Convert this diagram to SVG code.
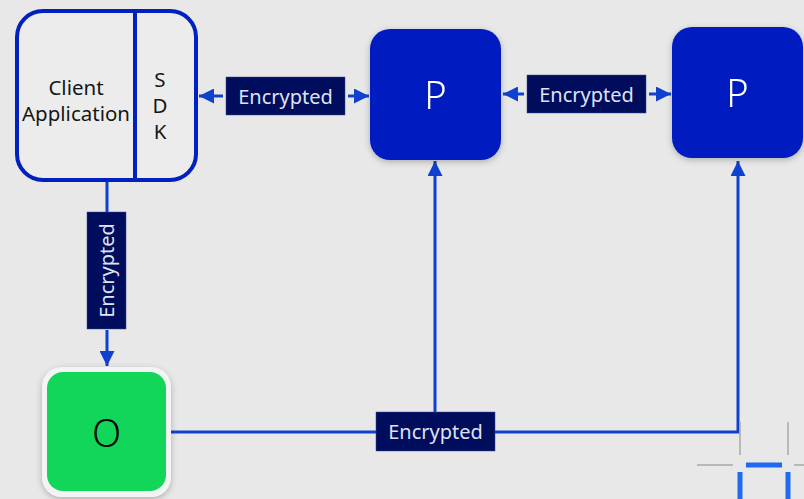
<svg xmlns="http://www.w3.org/2000/svg" width="804" height="499" viewBox="0 0 804 499">
  <defs>
    <marker id="arrow" viewBox="0 0 10 10" refX="10" refY="5" markerWidth="5" markerHeight="5" orient="auto-start-reverse" markerUnits="strokeWidth">
      <path d="M0,0 L10,5 L0,10 z" fill="#1040d0"/>
    </marker>
    <filter id="shadow" x="-20%" y="-20%" width="140%" height="140%">
      <feDropShadow dx="0" dy="2" stdDeviation="3" flood-color="#000" flood-opacity="0.25"/>
    </filter>
  </defs>
  <style>
    .edge { fill: none; stroke: #1040d0; stroke-width: 3; }
    .tag { fill: #000c5c; stroke: #3a4a8a; stroke-width: 0.5; }
    .tagtext { font-family: "Noto Sans", "Open Sans", sans-serif; font-size: 20px; fill: #dfe2f0; text-anchor: middle; dominant-baseline: central; }
    .ptext { font-family: "Noto Sans", "Open Sans", sans-serif; font-size: 38px; font-weight: 300; fill: #ffffff; text-anchor: middle; dominant-baseline: central; }
    .label { font-family: "Noto Sans", "Open Sans", sans-serif; font-size: 20.5px; fill: #161616; text-anchor: middle; dominant-baseline: central; }
  </style>
  <rect width="804" height="499" fill="#e8e8e8"/>

  <!-- connectors -->
  <g id="connectors">
    <line class="edge" x1="223" y1="96" x2="199" y2="96" marker-end="url(#arrow)"/>
    <line class="edge" x1="348" y1="96" x2="369" y2="96" marker-end="url(#arrow)"/>
    <line class="edge" x1="524" y1="94" x2="503" y2="94" marker-end="url(#arrow)"/>
    <line class="edge" x1="649" y1="94" x2="671" y2="94" marker-end="url(#arrow)"/>
    <line class="edge" x1="107" y1="181" x2="107" y2="212"/>
    <line class="edge" x1="107" y1="330" x2="107" y2="366" marker-end="url(#arrow)"/>
    <line class="edge" x1="171" y1="432" x2="376" y2="432"/>
    <polyline class="edge" points="495,432 738,432 738,161" marker-end="url(#arrow)"/>
    <line class="edge" x1="435" y1="412" x2="435" y2="161" marker-end="url(#arrow)"/>

    <g>
      <rect class="tag" x="226" y="77" width="119" height="38"/>
      <text class="tagtext" x="285.5" y="96">Encrypted</text>
    </g>
    <g>
      <rect class="tag" x="527" y="75" width="119" height="38"/>
      <text class="tagtext" x="586.5" y="94">Encrypted</text>
    </g>
    <g>
      <rect class="tag" x="87" y="212" width="39" height="117"/>
      <text class="tagtext" transform="translate(106.5 270.5) rotate(-90)">Encrypted</text>
    </g>
    <g>
      <rect class="tag" x="376" y="412" width="119" height="39"/>
      <text class="tagtext" x="435.5" y="431.5">Encrypted</text>
    </g>
  </g>

  <!-- client application with SDK -->
  <g id="client">
    <rect x="17" y="11" width="179" height="169" rx="26" fill="#ececec" stroke="#0020c0" stroke-width="4"/>
    <line x1="135" y1="11" x2="135" y2="180" stroke="#0020c0" stroke-width="4"/>
    <text class="label" x="76" y="87">Client</text>
    <text class="label" x="76" y="113">Application</text>
    <text class="label" x="160" y="79">S</text>
    <text class="label" x="160" y="105">D</text>
    <text class="label" x="160" y="131">K</text>
  </g>

  <!-- P nodes -->
  <g id="p1" filter="url(#shadow)">
    <rect x="370" y="29" width="131" height="131" rx="20" fill="#001ec0"/>
    <text class="ptext" x="435.5" y="94">P</text>
  </g>
  <g id="p2" filter="url(#shadow)">
    <rect x="672" y="27" width="131" height="131" rx="20" fill="#001ec0"/>
    <text class="ptext" x="737.5" y="92">P</text>
  </g>

  <!-- O node -->
  <g id="o">
    <rect x="42" y="367" width="129" height="130" rx="20" fill="#f4f4f4" filter="url(#shadow)"/>
    <rect x="47" y="372" width="119" height="119" rx="16" fill="#12d65a"/>
    <text class="ptext" x="106.5" y="432" style="fill:#000">O</text>
  </g>

  <!-- selection crosshair -->
  <g id="cursor">
    <g stroke="#a8a8a8" stroke-width="1.5">
      <line x1="740" y1="422" x2="740" y2="455"/>
      <line x1="788" y1="422" x2="788" y2="455"/>
      <line x1="697" y1="465" x2="733" y2="465"/>
      <line x1="794" y1="465" x2="804" y2="465"/>
    </g>
    <g stroke="#1e6af0" stroke-width="5">
      <line x1="746" y1="465" x2="782" y2="465"/>
      <line x1="740" y1="472" x2="740" y2="499"/>
      <line x1="788" y1="472" x2="788" y2="499"/>
    </g>
  </g>
</svg>
